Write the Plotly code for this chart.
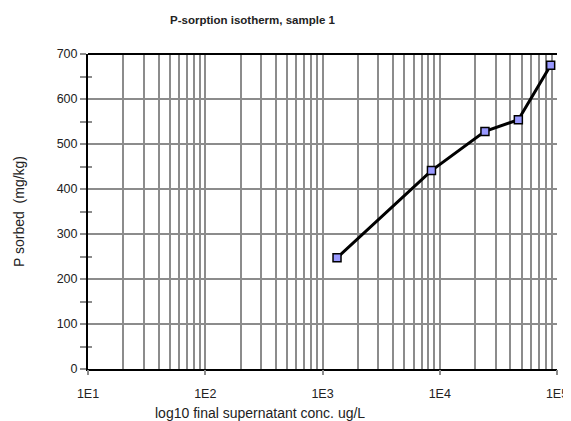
import plotly.graph_objects as go

conc = [1330, 8500, 24300, 46800, 88300]
sorbed = [247, 441, 528, 554, 675]

decades = [10, 100, 1000, 10000, 100000]
decade_labels = ["1E1", "1E2", "1E3", "1E4", "1E5"]
y_ticks = [0, 100, 200, 300, 400, 500, 600, 700]

grid_vals = []
grid_text = []
for d in decades[:-1]:
    for m in range(1, 10):
        grid_vals.append(d * m)
        grid_text.append(decade_labels[decades.index(d)] if m == 1 else "")
grid_vals.append(decades[-1])
grid_text.append(decade_labels[-1])

fig = go.Figure()
fig.add_trace(go.Scatter(
    x=conc, y=sorbed, mode="lines+markers",
    line=dict(color="black", width=3),
    marker=dict(symbol="square", size=8, color="#9999FF",
                line=dict(color="black", width=1.5)),
    showlegend=False,
))

font = dict(family="Liberation Sans, Arial", size=12.5, color="#222")

fig.update_layout(
    width=563, height=413,
    margin=dict(l=80, r=14, t=46, b=52, autoexpand=False),
    paper_bgcolor="white", plot_bgcolor="white",
    font=font,
    xaxis=dict(
        type="log", range=[1, 5], automargin=False,
        tickvals=grid_vals, ticktext=grid_text,
        showgrid=True, gridcolor="#8c8c8c", gridwidth=1.5,
        ticks="", showline=True, linecolor="black", linewidth=2,
        mirror=False, zeroline=False, tickfont=font, ticklabelstandoff=12,
    ),
    xaxis2=dict(
        type="log", range=[1, 5], overlaying="x", side="bottom", automargin=False,
        tickvals=decades, showticklabels=False, ticks="outside",
        ticklen=5, tickcolor="#8c8c8c", tickwidth=1.5, showgrid=False,
        showline=False, zeroline=False,
    ),
    yaxis=dict(
        range=[0, 700], tickvals=y_ticks, automargin=False,
        showgrid=True, gridcolor="#8c8c8c", gridwidth=1.5,
        ticks="outside", ticklen=6, tickcolor="#8c8c8c", tickwidth=1.5,
        minor=dict(dtick=50, ticks="outside", ticklen=6, tickcolor="#8c8c8c", tickwidth=1.5),
        showline=True, linecolor="black", linewidth=2,
        zeroline=False, tickfont=font,
    ),
    yaxis2=dict(
        range=[0, 700], overlaying="y", side="left", automargin=False,
        tickvals=y_ticks, showticklabels=False,
        ticks="inside", ticklen=4, tickcolor="#8c8c8c", tickwidth=1.5,
        minor=dict(dtick=50, ticks="inside", ticklen=4, tickcolor="#8c8c8c", tickwidth=1.5),
        showgrid=False, showline=False, zeroline=False,
    ),
    shapes=[
        dict(type="line", xref="paper", yref="paper", x0=0, x1=1, y0=1, y1=1,
             line=dict(color="black", width=2)),
    ],
    annotations=[
        dict(text="<b>P-sorption isotherm, sample 1</b>", xref="paper", yref="paper",
             x=(252 - 88) / 469, y=1 + (54 - 20) / 315, showarrow=False,
             xanchor="center", yanchor="middle",
             font=dict(family="Liberation Sans, Arial", size=11.5, color="#222")),
        dict(text="P sorbed  (mg/kg)", xref="paper", yref="paper",
             x=(19 - 88) / 469, y=(369 - 212) / 315, textangle=-90, showarrow=False,
             xanchor="center", yanchor="middle",
             font=dict(family="Liberation Sans, Arial", size=14, color="#222")),
        dict(text="log10 final supernatant conc. ug/L", xref="paper", yref="paper",
             x=(260 - 88) / 469, y=-(413 - 369) / 315, showarrow=False,
             xanchor="center", yanchor="middle",
             font=dict(family="Liberation Sans, Arial", size=14, color="#222")),
    ],
)
fig.add_trace(go.Scatter(x=[None], y=[None], xaxis="x2", yaxis="y2", showlegend=False, hoverinfo="skip"))

fig.write_html("out.html")
